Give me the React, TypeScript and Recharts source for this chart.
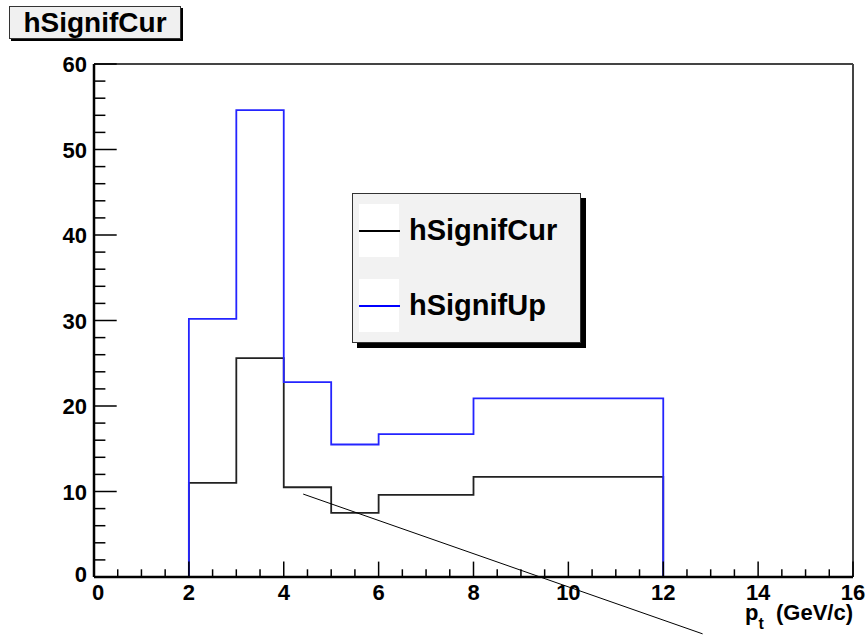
import React from 'react';
import { ComposedChart, Line, XAxis, YAxis, ReferenceLine, Legend } from 'recharts';

// histogram bin edges (p_t, GeV/c)
const binEdges = [2, 3, 4, 5, 6, 8, 12];
// bin contents
const signifCur = [11.0, 25.6, 10.5, 7.5, 9.6, 11.7];
const signifUp = [30.2, 54.6, 22.8, 15.5, 16.7, 20.9];

// stray line drawn on the canvas (data coordinates)
const lineStart = { x: 4.41, y: 9.7 };
const lineEnd = { x: 12.83, y: -6.65 };

const xTicks = [0, 0.5, 1, 1.5, 2, 2.5, 3, 3.5, 4, 4.5, 5, 5.5, 6, 6.5, 7, 7.5, 8, 8.5, 9, 9.5, 10, 10.5, 11, 11.5, 12, 12.5, 13, 13.5, 14, 14.5, 15, 15.5, 16];
const xLabeled = [0, 2, 4, 6, 8, 10, 12, 14, 16];
const yTicks = [0, 2, 4, 6, 8, 10, 12, 14, 16, 18, 20, 22, 24, 26, 28, 30, 32, 34, 36, 38, 40, 42, 44, 46, 48, 50, 52, 54, 56, 58, 60];
const yLabeled = [0, 10, 20, 30, 40, 50, 60];

const FONT = '"Liberation Sans", Arial, Helvetica, sans-serif';

function toSteps(edges: number[], vals: number[]) {
  const pts: { x: number; y: number }[] = [{ x: edges[0], y: 0 }];
  vals.forEach((v, i) => {
    pts.push({ x: edges[i], y: v });
    pts.push({ x: edges[i + 1], y: v });
  });
  pts.push({ x: edges[edges.length - 1], y: 0 });
  return pts;
}

const curData = toSteps(binEdges, signifCur);
const upData = toSteps(binEdges, signifUp);

const XTick = (props: any) => {
  const { x, y, payload } = props;
  const v = payload.value;
  const major = xLabeled.includes(v);
  const len = major ? 15.4 : 7.7;
  return (
    <g>
      <line x1={x} x2={x} y1={y} y2={y - len} stroke="#000" strokeWidth={1.5} />
      {major && (
        <text x={v === 0 ? x + 4 : x} y={y + 23} textAnchor="middle" fontFamily={FONT} fontWeight="bold" fontSize={22} fill="#000">
          {v}
        </text>
      )}
    </g>
  );
};

const YTick = (props: any) => {
  const { x, y, payload } = props;
  const v = payload.value;
  const major = yLabeled.includes(v);
  const len = major ? 22.7 : 11.4;
  return (
    <g>
      <line x1={x} x2={x + len} y1={y} y2={y} stroke="#000" strokeWidth={1.5} />
      {major && (
        <text x={x - 7} y={v === 0 ? y + 5 : y + 8} textAnchor="end" fontFamily={FONT} fontWeight="bold" fontSize={22} fill="#000">
          {v}
        </text>
      )}
    </g>
  );
};

const AxisTitle = () => (
  <text x={853} y={620} textAnchor="end" fontFamily={FONT} fontWeight="bold" fontSize={22} fill="#000">
    <tspan>p</tspan>
    <tspan dy={9} fontSize={16}>t</tspan>
    <tspan dy={-9}>{'\u00a0\u00a0(GeV/c)'}</tspan>
  </text>
);

const LegendBox = () => {
  const entries = [
    { name: 'hSignifCur', color: '#000' },
    { name: 'hSignifUp', color: '#0000ff' },
  ];
  return (
    <div
      style={{
        position: 'relative',
        width: 229,
        height: 150,
        background: '#f2f2f2',
        border: '1px solid #333',
        boxSizing: 'border-box',
        boxShadow: '5px 5px 0 #000',
        fontFamily: FONT,
      }}
    >
      {entries.map((e, i) => (
        <div key={e.name} style={{ position: 'absolute', left: 0, top: 10 + i * 75, width: 229, height: 53 }}>
          <div style={{ position: 'absolute', left: 6, top: 0, width: 40, height: 53, background: '#fff' }} />
          <div style={{ position: 'absolute', left: 6, top: 26, width: 41, height: 1.5, background: e.color }} />
          <div
            style={{
              position: 'absolute',
              left: 56,
              top: 8,
              fontSize: 29,
              fontWeight: 'bold',
              lineHeight: '36px',
              color: '#000',
              whiteSpace: 'nowrap',
            }}
          >
            {e.name}
          </div>
        </div>
      ))}
    </div>
  );
};

export default function App() {
  return (
    <div style={{ position: 'absolute', left: 0, top: 0, width: 868, height: 635, background: '#fff' }}>
      <div
        style={{
          position: 'absolute',
          left: 9,
          top: 6,
          width: 172,
          height: 33,
          background: '#f0f0f0',
          border: '1px solid #333',
          boxSizing: 'border-box',
          boxShadow: '2px 2px 0 #000',
          fontFamily: FONT,
          fontWeight: 'bold',
          fontSize: 28,
          lineHeight: '31px',
          textAlign: 'center',
          color: '#000',
          whiteSpace: 'nowrap',
        }}
      >
        hSignifCur
      </div>
      <ComposedChart width={868} height={635} margin={{ top: 64, right: 15, bottom: 0, left: 0 }}>
        <XAxis
          type="number"
          dataKey="x"
          domain={[0, 16]}
          ticks={xTicks}
          interval={0}
          height={58}
          tickSize={0}
          tickMargin={0}
          tickLine={false}
          tick={<XTick />}
          axisLine={{ stroke: '#000', strokeWidth: 2.5 }}
          allowDataOverflow
          label={<AxisTitle />}
        />
        <YAxis
          type="number"
          dataKey="y"
          domain={[0, 60]}
          ticks={yTicks}
          interval={0}
          width={94}
          tickSize={0}
          tickMargin={0}
          tickLine={false}
          tick={<YTick />}
          axisLine={{ stroke: '#000', strokeWidth: 2.5 }}
          allowDataOverflow
        />
        <ReferenceLine y={60} stroke="#444" strokeWidth={2} />
        <ReferenceLine x={16} stroke="#444" strokeWidth={2} />
        <Line
          data={curData}
          dataKey="y"
          type="linear"
          stroke="#222"
          strokeWidth={1.8}
          dot={false}
          isAnimationActive={false}
          name="hSignifCur"
        />
        <Line
          data={upData}
          dataKey="y"
          type="linear"
          stroke="#2424ff"
          strokeWidth={1.8}
          dot={false}
          isAnimationActive={false}
          name="hSignifUp"
        />
        <ReferenceLine
          segment={[lineStart, lineEnd]}
          ifOverflow="visible"
          stroke="#000"
          strokeWidth={1}
        />
        <Legend
          layout="vertical"
          align="center"
          verticalAlign="middle"
          content={<LegendBox />}
          wrapperStyle={{ position: 'absolute', left: 352, top: 193, width: 229, height: 150 }}
        />
      </ComposedChart>
    </div>
  );
}
